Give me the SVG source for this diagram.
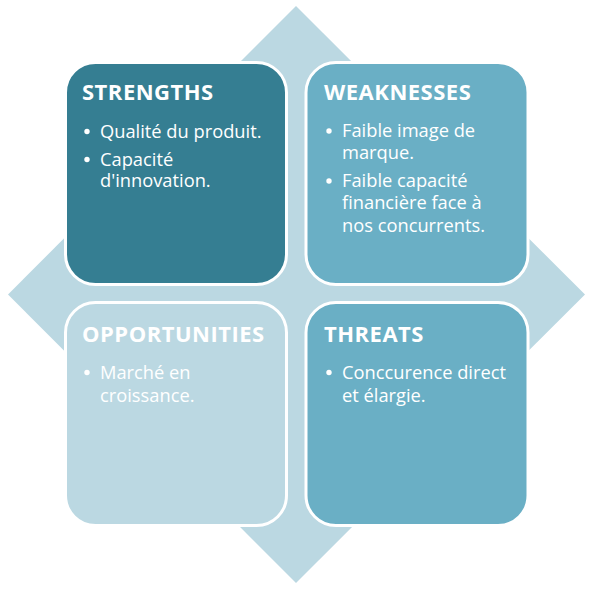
<svg xmlns="http://www.w3.org/2000/svg" width="592" height="593" viewBox="0 0 592 593">
  <style>
    .box { stroke: #FFFFFF; stroke-width: 3; }
    .s { fill: #357E92; }
    .w { fill: #6AAFC5; }
    .o { fill: #BBD8E2; }
    .title { font-family: "Open Sans", "Liberation Sans", sans-serif; font-weight: bold; font-size: 22px; fill: #FFFFFF; letter-spacing: 0.5px; }
    .body { font-family: "Open Sans", "Liberation Sans", sans-serif; font-size: 18.3px; fill: #FFFFFF; }
    .dot { fill: #FFFFFF; }
  </style>
  <rect width="592" height="593" fill="#FFFFFF"/>
  <g id="background">
    <polygon points="296,6 585,294.5 296,583 8,294.5" fill="#BBD8E2"/>
  </g>
  <g id="strengths">
    <rect class="box s" x="65.5" y="62.5" width="221" height="222" rx="30" ry="30"/>
    <text class="title" x="82" y="100">STRENGTHS</text>
    <circle class="dot" cx="87" cy="131.5" r="2.7"/>
    <text class="body" x="100" y="137.5">Qualité du produit.</text>
    <circle class="dot" cx="87" cy="159.5" r="2.7"/>
    <text class="body" x="100" y="165.5">Capacité</text>
    <text class="body" x="100" y="187">d'innovation.</text>
  </g>
  <g id="weaknesses">
    <rect class="box w" x="306" y="62.5" width="222" height="222" rx="30" ry="30"/>
    <text class="title" x="324" y="100">WEAKNESSES</text>
    <circle class="dot" cx="329" cy="131" r="2.7"/>
    <text class="body" x="342" y="137">Faible image de</text>
    <text class="body" x="342" y="158.5">marque.</text>
    <circle class="dot" cx="329" cy="181" r="2.7"/>
    <text class="body" x="342" y="187">Faible capacité</text>
    <text class="body" x="342" y="209">financière face à</text>
    <text class="body" x="342" y="231.5">nos concurrents.</text>
  </g>
  <g id="opportunities">
    <rect class="box o" x="65.5" y="302.5" width="221" height="223" rx="30" ry="30"/>
    <text class="title" x="82" y="341.5">OPPORTUNITIES</text>
    <circle class="dot" cx="87" cy="372.5" r="2.7"/>
    <text class="body" x="100" y="378.5">Marché en</text>
    <text class="body" x="100" y="401.5">croissance.</text>
  </g>
  <g id="threats">
    <rect class="box w" x="306" y="302.5" width="222" height="223" rx="30" ry="30"/>
    <text class="title" x="324" y="341.5">THREATS</text>
    <circle class="dot" cx="329" cy="372.5" r="2.7"/>
    <text class="body" x="342" y="378.5">Conccurence direct</text>
    <text class="body" x="342" y="401.5">et élargie.</text>
  </g>
</svg>
